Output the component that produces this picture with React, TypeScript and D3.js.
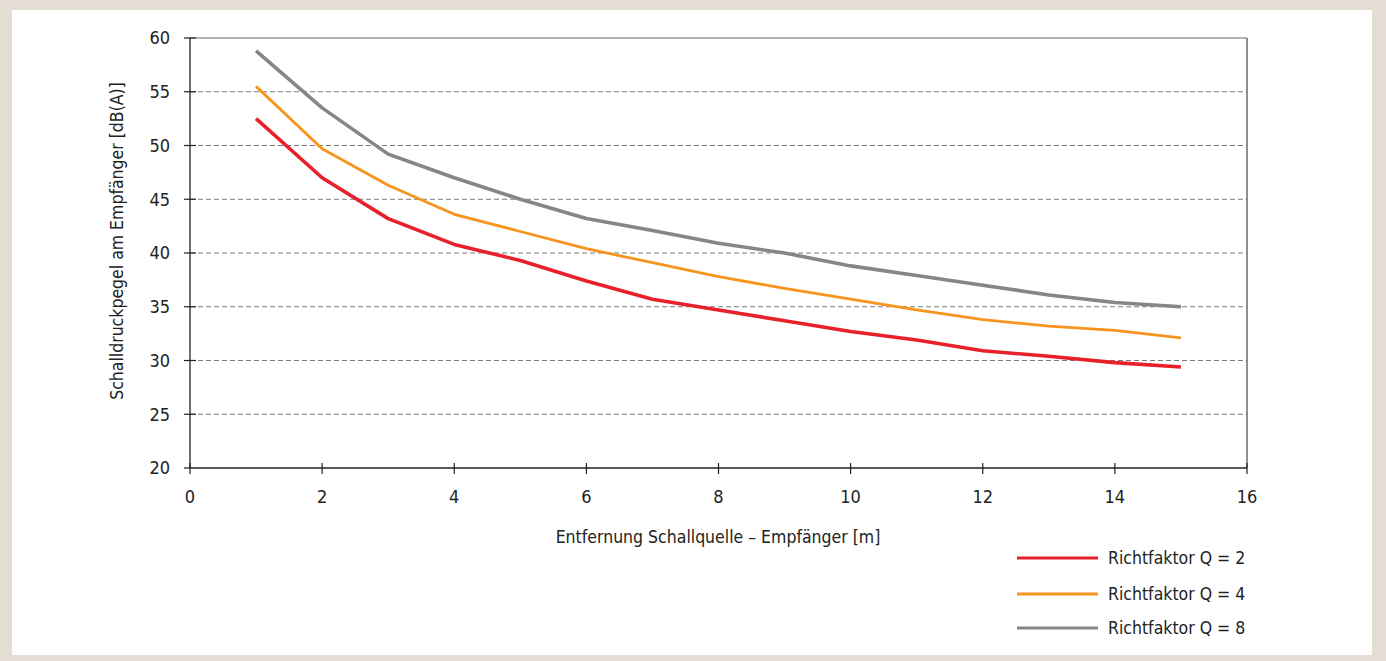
import React from "react";
import * as d3 from "d3";

const distances = [1, 2, 3, 4, 5, 6, 7, 8, 9, 10, 11, 12, 13, 14, 15];
const seriesNames = ["Richtfaktor Q = 2", "Richtfaktor Q = 4", "Richtfaktor Q = 8"];
const q2 = [52.5, 47.0, 43.2, 40.8, 39.3, 37.4, 35.7, 34.7, 33.7, 32.7, 31.9, 30.9, 30.4, 29.8, 29.4];
const q4 = [55.5, 49.7, 46.3, 43.6, 42.0, 40.4, 39.1, 37.8, 36.7, 35.7, 34.7, 33.8, 33.2, 32.8, 32.1];
const q8 = [58.8, 53.5, 49.2, 47.0, 45.0, 43.2, 42.1, 40.9, 40.0, 38.8, 37.9, 37.0, 36.1, 35.4, 35.0];
const xTicks = [0, 2, 4, 6, 8, 10, 12, 14, 16];
const yTicks = [20, 25, 30, 35, 40, 45, 50, 55, 60];
const xTitle = "Entfernung Schallquelle – Empfänger [m]";
const yTitle = "Schalldruckpegel am Empfänger [dB(A)]";

const colors = ["#e8202a", "#f7941d", "#86868a"];
const widths = [3.6, 2.8, 3.6];
const FONT = "'Liberation Sans Narrow', 'DejaVu Sans Condensed', 'Liberation Sans', sans-serif";

export default function App() {
  const W = 1386, H = 661;
  const left = 190, right = 1247, top = 38, bottom = 468;
  const x = d3.scaleLinear().domain([0, 16]).range([left, right]);
  const y = d3.scaleLinear().domain([20, 60]).range([bottom, top]);
  const data = [q2, q4, q8];
  const line = d3
    .line<number>()
    .x((_, i) => x(distances[i]))
    .y((d) => y(d))
    .curve(d3.curveLinear);

  return (
    <svg
      width={W}
      height={H}
      style={{ position: "absolute", left: 0, top: 0, display: "block" }}
      fontFamily={FONT}
    >
      <rect x={0} y={0} width={W} height={H} fill="#e3ddd3" />
      <rect x={12} y={10} width={1360} height={645} fill="#ffffff" />

      {/* grid */}
      {yTicks
        .filter((t) => t > 20 && t < 60)
        .map((t) => (
          <line
            key={"g" + t}
            x1={left}
            x2={right}
            y1={y(t)}
            y2={y(t)}
            stroke="#7a7a7a"
            strokeWidth={1}
            strokeDasharray="5,3"
          />
        ))}
      {/* frame top/right */}
      <line x1={left} x2={right} y1={top} y2={top} stroke="#6a6a6a" strokeWidth={1.2} />
      <line x1={right} x2={right} y1={top} y2={bottom} stroke="#444" strokeWidth={1.2} />
      {/* axes */}
      <line x1={left} x2={left} y1={top} y2={bottom} stroke="#222" strokeWidth={1.3} />
      <line x1={left} x2={right} y1={bottom} y2={bottom} stroke="#222" strokeWidth={1.3} />
      {yTicks.map((t) => (
        <g key={"yt" + t}>
          <line x1={left - 6} x2={left + (t === 20 ? 0 : 6)} y1={y(t)} y2={y(t)} stroke="#222" strokeWidth={1.2} />
          <text x={170} y={y(t)} dy="0.35em" textAnchor="end" fontSize={18} fill="#222">
            {t}
          </text>
        </g>
      ))}
      {xTicks.map((t) => (
        <g key={"xt" + t}>
          <line x1={x(t)} x2={x(t)} y1={bottom - 5} y2={bottom + 6} stroke="#222" strokeWidth={1.2} />
          <text x={x(t)} y={497} dy="0.35em" textAnchor="middle" fontSize={18} fill="#222">
            {t}
          </text>
        </g>
      ))}
      <text x={718} y={537} dy="0.35em" textAnchor="middle" fontSize={17.5} fill="#222">
        {xTitle}
      </text>
      <text
        transform={`translate(117,${241}) rotate(-90)`}
        dy="0.35em"
        textAnchor="middle"
        fontSize={17.5}
        fill="#222"
      >
        {yTitle}
      </text>

      {data.map((s, i) => (
        <path key={"s" + i} d={line(s) || ""} fill="none" stroke={colors[i]} strokeWidth={widths[i]} strokeLinejoin="round" />
      ))}

      {seriesNames.map((n, i) => {
        const ly = [558, 594, 628][i];
        return (
          <g key={"l" + i}>
            <line x1={1017} x2={1098} y1={ly} y2={ly} stroke={colors[i]} strokeWidth={3} />
            <text x={1108} y={ly} dy="0.35em" fontSize={17.5} fill="#222">
              {n}
            </text>
          </g>
        );
      })}
    </svg>
  );
}
